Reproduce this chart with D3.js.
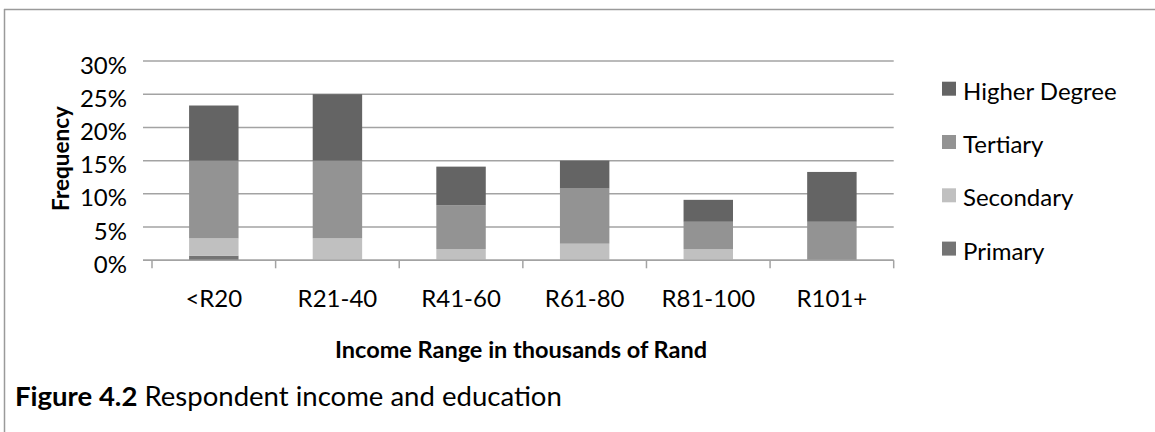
<!DOCTYPE html>
<html>
<head>
<meta charset="utf-8">
<script src="https://cdn.jsdelivr.net/npm/d3@7"></script>
<style>
  html, body { margin: 0; padding: 0; background: #fff; }
  svg { display: block; }
  text { font-family: Lato, "Open Sans", sans-serif; fill: #000; }
</style>
</head>
<body>
<svg id="chart" width="1155" height="432"></svg>
<script>
// Income ranges (thousands of Rand) and share of respondents by education level
const categories = ["<R20", "R21-40", "R41-60", "R61-80", "R81-100", "R101+"];
const primary   = [0.007, 0.000, 0.000, 0.000, 0.000, 0.000];
const secondary = [0.026, 0.033, 0.017, 0.025, 0.017, 0.000];
const tertiary  = [0.117, 0.117, 0.066, 0.083, 0.041, 0.058];
const higher    = [0.083, 0.100, 0.058, 0.042, 0.033, 0.075];

const yTicks = [0, 0.05, 0.10, 0.15, 0.20, 0.25, 0.30];
const seriesKeys = ["Primary", "Secondary", "Tertiary", "Higher Degree"];
const seriesValues = [primary, secondary, tertiary, higher];
const colors = { "Primary": "#747474", "Secondary": "#c0c0c0", "Tertiary": "#939393", "Higher Degree": "#646464" };
const legendOrder = ["Higher Degree", "Tertiary", "Secondary", "Primary"];

const rows = categories.map((c, i) => {
  const r = { category: c };
  seriesKeys.forEach((k, j) => { r[k] = seriesValues[j][i]; });
  return r;
});

const svg = d3.select("#chart");
const fs = 24;

function label(g, x, y, str, opts = {}) {
  return g.append("text")
    .attr("transform", `translate(${x},${y}) scale(${opts.sx || 1},1)${opts.rotate ? ` rotate(${opts.rotate})` : ""}`)
    .attr("text-anchor", opts.anchor || "start")
    .attr("dominant-baseline", "central")
    .style("font-size", (opts.size || fs) + "px")
    .style("font-weight", opts.bold ? "bold" : "normal")
    .text(str);
}

// Outer frame (top and left edges)
svg.append("line").attr("x1", 4).attr("x2", 1155).attr("y1", 9.5).attr("y2", 9.5)
  .attr("stroke", "#9a9a9a").attr("stroke-width", 1.5);
svg.append("line").attr("x1", 4.5).attr("x2", 4.5).attr("y1", 9).attr("y2", 432)
  .attr("stroke", "#9a9a9a").attr("stroke-width", 1.5);

const plot = { left: 152, right: 893.7, top: 61, bottom: 260.3 };

const x = d3.scaleBand().domain(categories).range([plot.left, plot.right])
  .paddingInner(0.6).paddingOuter(0.3);
const y = d3.scaleLinear().domain([0, 0.30]).range([plot.bottom, plot.top]);

// Horizontal gridlines (with outside tick stubs on the left)
svg.append("g").selectAll("line").data(yTicks).join("line")
  .attr("x1", plot.left - 9).attr("x2", plot.right)
  .attr("y1", d => y(d)).attr("y2", d => y(d))
  .attr("stroke", "#a3a3a3").attr("stroke-width", 1.5);

// Y tick labels
const yl = svg.append("g");
yTicks.forEach(d => label(yl, 127, y(d) + 3, d3.format(".0%")(d), { anchor: "end" }));

// Stacked bars
const stack = d3.stack().keys(seriesKeys)(rows);
svg.append("g").selectAll("g").data(stack).join("g")
  .attr("fill", s => colors[s.key])
  .selectAll("rect").data(s => s).join("rect")
  .attr("x", d => x(d.data.category))
  .attr("width", x.bandwidth())
  .attr("y", d => y(d[1]))
  .attr("height", d => y(d[0]) - y(d[1]));

// Category axis line and boundary ticks
svg.append("line").attr("x1", plot.left - 9).attr("x2", plot.right)
  .attr("y1", y(0)).attr("y2", y(0)).attr("stroke", "#a3a3a3").attr("stroke-width", 1.5);
const bounds = d3.range(categories.length + 1).map(i => plot.left + i * x.step());
svg.append("g").selectAll("line").data(bounds).join("line")
  .attr("x1", d => d).attr("x2", d => d)
  .attr("y1", y(0)).attr("y2", y(0) + 8)
  .attr("stroke", "#a3a3a3").attr("stroke-width", 1.5);

// Category labels
const xl = svg.append("g");
categories.forEach(c => label(xl, x(c) + x.bandwidth() / 2, 297, c, { anchor: "middle" }));

// Axis titles
label(svg, 521, 349, "Income Range in thousands of Rand", { anchor: "middle", bold: true, size: 23.5 });
label(svg, 60, 158.5, "Frequency", { anchor: "middle", bold: true, rotate: -90, size: 22.5 });

// Legend
const lg = svg.append("g");
legendOrder.forEach((k, i) => {
  const cy = 88.7 + i * 53.3;
  lg.append("rect").attr("x", 942).attr("y", cy - 7).attr("width", 14).attr("height", 14)
    .attr("fill", colors[k]);
  label(lg, 963, cy + 1.5, k);
});

// Figure caption
const cap = svg.append("text")
  .attr("transform", "translate(15,395) scale(1.02,1)")
  .attr("dominant-baseline", "central")
  .style("font-size", "27px");
cap.append("tspan").style("font-weight", "bold").text("Figure 4.2");
cap.append("tspan").text(" Respondent income and education");
</script>
</body>
</html>
